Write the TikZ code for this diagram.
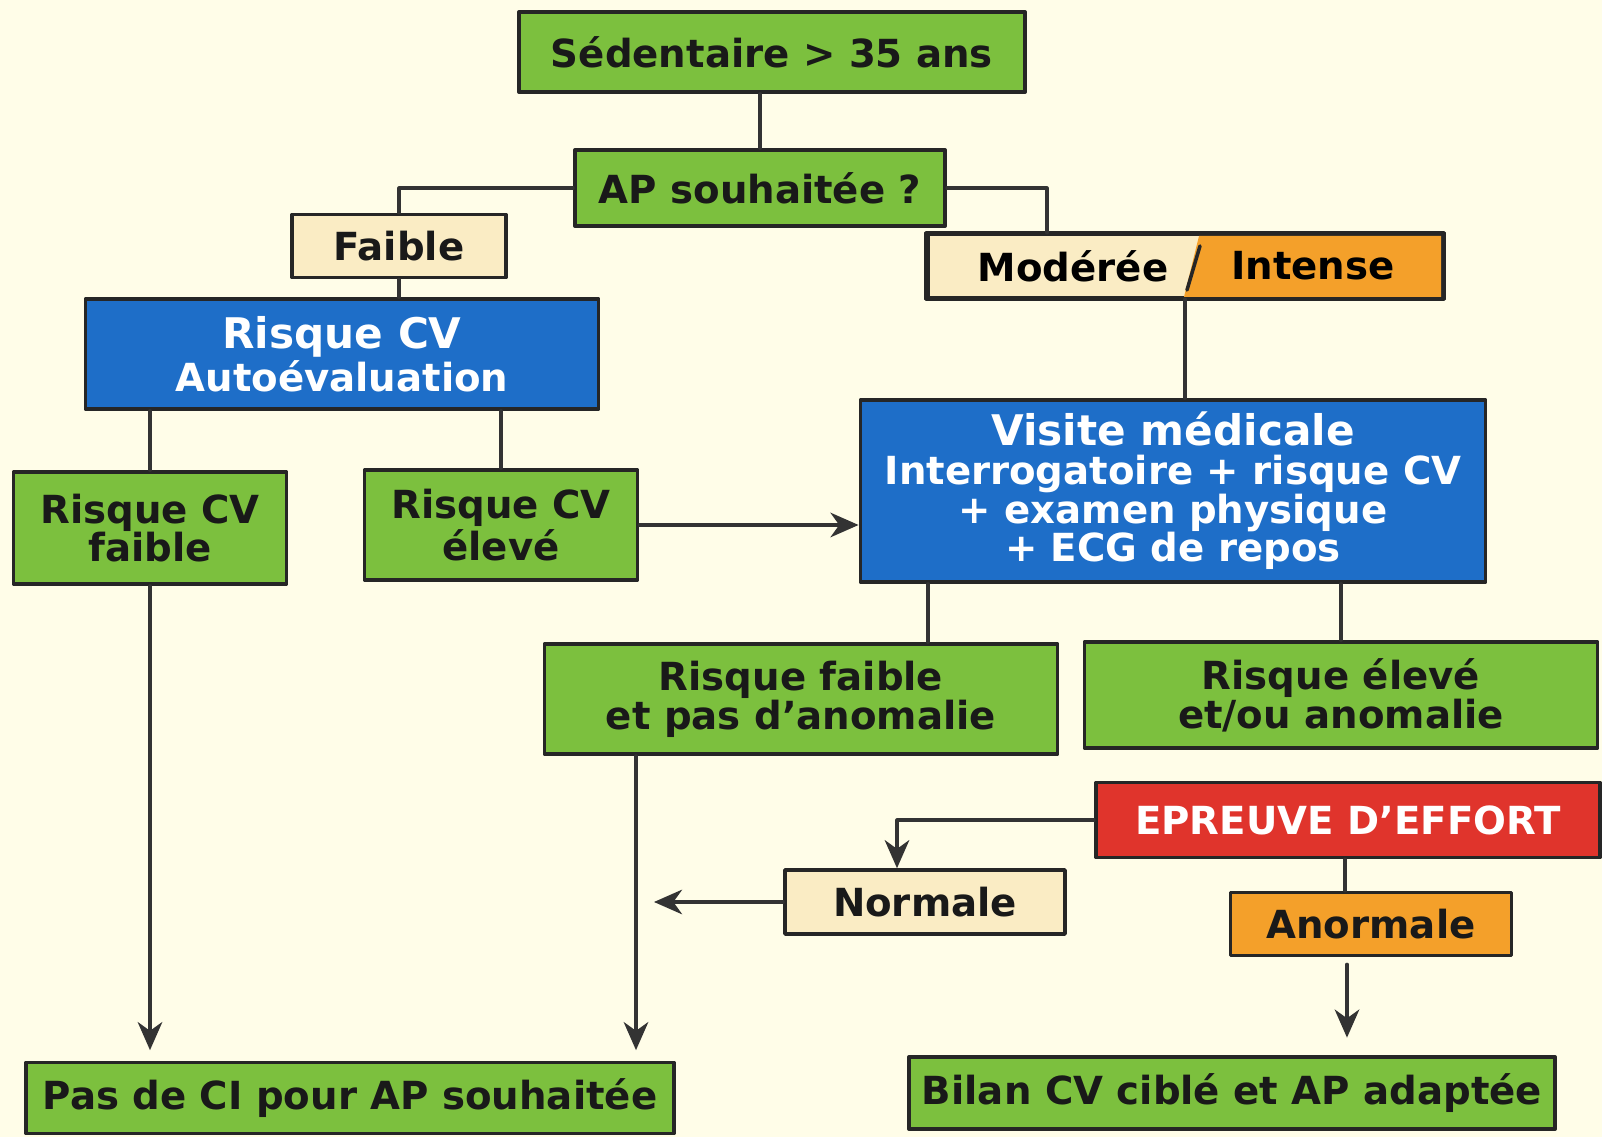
\documentclass[tikz,border=0pt]{standalone}
\usepackage{fontspec}
\setmainfont{DejaVu Sans}
\usetikzlibrary{calc,arrows.meta}
\definecolor{fond}{RGB}{255,253,232}
\definecolor{vertb}{RGB}{124,192,62}
\definecolor{bleub}{RGB}{30,110,200}
\definecolor{cremeb}{RGB}{250,236,196}
\definecolor{orangeb}{RGB}{244,160,42}
\definecolor{rougeb}{RGB}{224,52,44}
\begin{document}
\begin{tikzpicture}[x=0.01cm,y=-0.01cm,>={Stealth[length=8pt,width=7pt,inset=2.5pt]},line join=round,line cap=round,
	font=\fontsize{11}{11}\selectfont\bfseries,
	boite/.style={draw=black!85,line width=1pt,align=center,inner sep=2pt},
	vert/.style={boite,fill=vertb,text=black!90},
	bleu/.style={boite,fill=bleub,text=white},
	creme/.style={boite,fill=cremeb,text=black!90},
	orange/.style={boite,fill=orangeb,text=black!90},
	rouge/.style={boite,fill=rougeb,text=white},
	lien/.style={line width=0.9pt,draw=black!80}]
	\fill[fond] (0,0) rectangle (1602,1137);
	\useasboundingbox (0,0) rectangle (1602,1137);
	% boites
	\node[vert,minimum width=5.06cm,minimum height=0.80cm] (sed) at (772,52) {Sédentaire > 35 ans};
	\node[vert,minimum width=3.70cm,minimum height=0.76cm] (ap) at (760,188) {AP souhaitée ?};
	\node[creme,minimum width=2.14cm,minimum height=0.63cm] (faible) at (399,246) {Faible};
	\node[creme,minimum width=5.14cm,minimum height=0.63cm] (modint) at (1185,266) {};
	\fill[orangeb] (1199,236) -- (1441,236) -- (1441,297) -- (1184,297) -- cycle;
	\draw[line width=1pt,black!85] (modint.north west) rectangle (modint.south east);
	\draw[line width=1pt,black!85] (1200,246) -- (1187,290);
	\node (mod) at (1073,266) {Modérée};
	\node (int) at (1313,266) {Intense};
	\node[bleu,minimum width=5.13cm,minimum height=1.10cm] (auto) at (342,354)
		{{\fontsize{12}{12}\selectfont Risque CV}\\Autoévaluation};
	\node[vert,minimum width=2.73cm,minimum height=1.12cm] (cvf) at (150,528) {Risque CV\\faible};
	\node[vert,minimum width=2.73cm,minimum height=1.10cm] (cve) at (501,525) {Risque CV\\élevé};
	\node[bleu,minimum width=6.25cm,minimum height=1.82cm] (visite) at (1173,491)
		{{\fontsize{12}{12}\selectfont Visite médicale}\\Interrogatoire + risque CV\\+ examen physique\\+ ECG de repos};
	\node[vert,minimum width=5.13cm,minimum height=1.10cm] (rfa) at (801,699) {Risque faible\\et pas d'anomalie};
	\node[vert,minimum width=5.13cm,minimum height=1.06cm] (rea) at (1341,695) {Risque élevé\\et/ou anomalie};
	\node[rouge,minimum width=5.04cm,minimum height=0.75cm] (effort) at (1348,820) {EPREUVE D'EFFORT};
	\node[creme,minimum width=2.80cm,minimum height=0.64cm] (normale) at (925,902) {Normale};
	\node[orange,minimum width=2.81cm,minimum height=0.63cm] (anormale) at (1371,924) {Anormale};
	\node[vert,minimum width=6.48cm,minimum height=0.71cm] (pasci) at (350,1098) {Pas de CI pour AP souhaitée};
	\node[vert,minimum width=6.46cm,minimum height=0.72cm] (bilan) at (1232,1093) {Bilan CV ciblé et AP adaptée};
	\coordinate (nend) at (654,902);
	% liens
	\draw[lien] (ap.north) -- (ap.north |- sed.south);
	\draw[lien] (ap.west) -| (faible.north);
	\draw[lien] (ap.east) -| (1047,0 |- modint.north);
	\draw[lien] (faible.south) -- (faible.south |- auto.north);
	\draw[lien] (cvf.north) -- (cvf.north |- auto.south);
	\draw[lien] (cve.north) -- (cve.north |- auto.south);
	\draw[lien,->] (cve.east) -- (cve.east -| visite.west);
	\draw[lien] (modint.south) -- (modint.south |- visite.north);
	\draw[lien] (928,0 |- visite.south) -- (928,0 |- rfa.north);
	\draw[lien] (rea.north) -- (rea.north |- visite.south);
	\draw[lien,->] (effort.west) -| (897,0 |- normale.north);
	\draw[lien,->] (normale.west) -- (nend);
	\draw[lien] (1345,0 |- effort.south) -- (1345,0 |- anormale.north);
	\draw[lien,->,shorten <=2pt,shorten >=5pt] (1347,0 |- anormale.south) -- (1347,0 |- bilan.north);
	\draw[lien,->,shorten >=3pt] (cvf.south) -- (cvf.south |- pasci.north);
	\draw[lien,->,shorten >=3pt] (636,0 |- rfa.south) -- (636,0 |- pasci.north);
\end{tikzpicture}
\end{document}
